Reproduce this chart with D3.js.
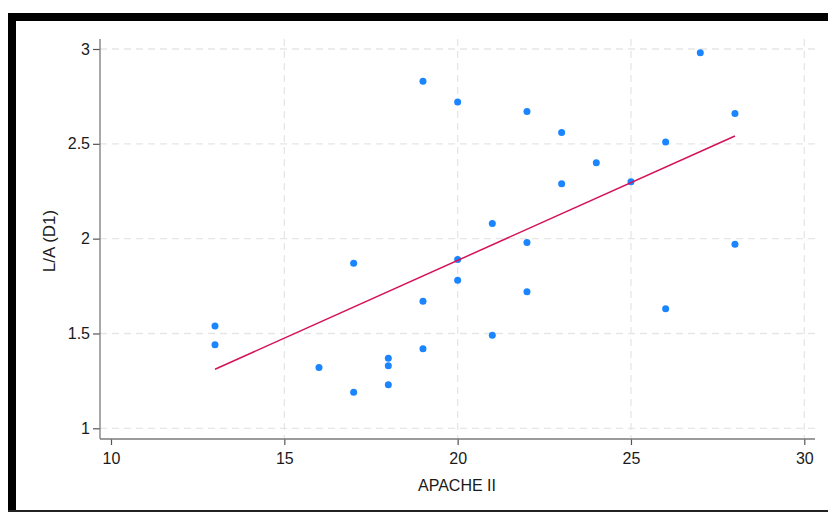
<!DOCTYPE html>
<html>
<head>
<meta charset="utf-8">
<script src="https://cdn.jsdelivr.net/npm/d3@7"></script>
<style>
  html, body { margin: 0; padding: 0; background: #fff; }
  svg { display: block; }
  text { font-family: "Liberation Sans", Arial, sans-serif; fill: #1a1a1a; }
</style>
</head>
<body>
<svg id="chart" width="828" height="512"></svg>
<script>
// Data
const apache = [13, 13, 16, 17, 17, 18, 18, 18, 19, 19, 19, 20, 20, 20, 21, 21, 22, 22, 22, 23, 23, 24, 25, 26, 26, 27, 28, 28];
const laD1   = [1.54, 1.44, 1.32, 1.87, 1.19, 1.37, 1.33, 1.23, 2.83, 1.67, 1.42, 2.72, 1.89, 1.78, 2.08, 1.49, 2.67, 1.98, 1.72, 2.56, 2.29, 2.40, 2.30, 2.51, 1.63, 2.98, 2.66, 1.97];
const xTicks = [10, 15, 20, 25, 30];
const yTicks = [1, 1.5, 2, 2.5, 3];
const xGrid  = [15, 20, 25, 30];
const xTitle = "APACHE II";
const yTitle = "L/A (D1)";

const svg = d3.select("#chart");

// frame (black border of the screenshot)
svg.append("rect").attr("x", 8).attr("y", 13).attr("width", 820).attr("height", 8).attr("fill", "#000");
svg.append("rect").attr("x", 8).attr("y", 13).attr("width", 8).attr("height", 499).attr("fill", "#000");
svg.append("rect").attr("x", 8).attr("y", 510).attr("width", 820).attr("height", 2).attr("fill", "#222");

const x = d3.scaleLinear().domain([10, 30]).range([111, 804.3]);
const y = d3.scaleLinear().domain([1, 3]).range([428.3, 49]);

const plotL = 100, plotR = 815, plotT = 39, plotB = 439;

// grid
const grid = svg.append("g").attr("stroke", "#e6e6e6").attr("stroke-width", 1.3).attr("stroke-dasharray", "7,5");
grid.selectAll("line.h").data(yTicks).join("line")
  .attr("x1", plotL).attr("x2", plotR)
  .attr("y1", d => y(d)).attr("y2", d => y(d));
grid.selectAll("line.v").data(xGrid).join("line")
  .attr("y1", plotT).attr("y2", plotB)
  .attr("x1", d => x(d)).attr("x2", d => x(d));

// axes
const axisColor = "#7a7a7a";
const xAxis = svg.append("g").attr("transform", `translate(0,${plotB})`)
  .call(d3.axisBottom(x).tickValues(xTicks).tickSize(6).tickPadding(8).tickFormat(d3.format("d")));
xAxis.select(".domain").remove();
xAxis.append("line").attr("x1", plotL).attr("x2", plotR).attr("stroke", axisColor).attr("stroke-width", 1.3);
xAxis.selectAll(".tick line").attr("stroke", "#555").attr("stroke-width", 1.2);
xAxis.selectAll(".tick text").attr("font-size", 16).attr("fill", "#1a1a1a")
  .attr("font-family", '"Liberation Sans", Arial, sans-serif');

const yAxis = svg.append("g").attr("transform", `translate(${plotL},0)`)
  .call(d3.axisLeft(y).tickValues(yTicks).tickSize(7).tickPadding(3).tickFormat(d3.format("")));
yAxis.select(".domain").remove();
yAxis.append("line").attr("y1", plotT).attr("y2", plotB).attr("stroke", axisColor).attr("stroke-width", 1.3);
yAxis.selectAll(".tick line").attr("stroke", "#555").attr("stroke-width", 1.2);
yAxis.selectAll(".tick text").attr("font-size", 16).attr("fill", "#1a1a1a")
  .attr("font-family", '"Liberation Sans", Arial, sans-serif');

// titles
svg.append("text").attr("x", 457).attr("y", 491).attr("text-anchor", "middle")
  .attr("font-size", 16).text(xTitle);
svg.append("text").attr("transform", "translate(55,241) rotate(-90)").attr("text-anchor", "middle")
  .attr("font-size", 17).text(yTitle);

// linear fit (OLS computed from the data)
const n = apache.length;
const mx = d3.mean(apache), my = d3.mean(laD1);
let sxy = 0, sxx = 0;
for (let i = 0; i < n; i++) { sxy += (apache[i] - mx) * (laD1[i] - my); sxx += (apache[i] - mx) ** 2; }
const b = sxy / sxx, a = my - b * mx;
const [xmin, xmax] = d3.extent(apache);

// points
const pts = apache.map((v, i) => ({ x: v, y: laD1[i] }));
svg.append("g").selectAll("circle").data(pts).join("circle")
  .attr("cx", d => x(d.x)).attr("cy", d => y(d.y)).attr("r", 3.5).attr("fill", "#1a85ff");

svg.append("line")
  .attr("x1", x(xmin)).attr("y1", y(a + b * xmin))
  .attr("x2", x(xmax)).attr("y2", y(a + b * xmax))
  .attr("stroke", "#d41159").attr("stroke-width", 1.5);
</script>
</body>
</html>
